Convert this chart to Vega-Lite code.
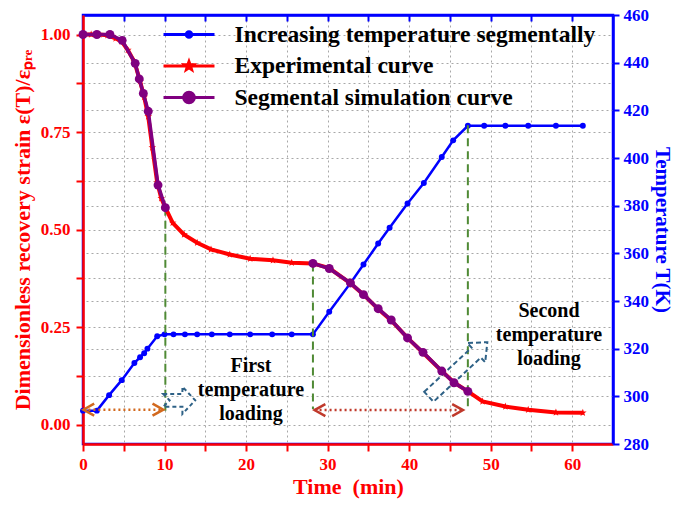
{
  "$schema": "https://vega.github.io/schema/vega-lite/v6.json",
  "width": 530,
  "height": 429,
  "autosize": {"type": "none"},
  "padding": {"left": 83, "top": 15, "right": 66, "bottom": 65},
  "background": "white",
  "config": {
    "view": {"stroke": "#0000ff", "strokeWidth": 2.5},
    "font": "Liberation Serif",
    "axis": {
      "labelFont": "Liberation Serif",
      "titleFont": "Liberation Serif",
      "labelFontWeight": "bold",
      "titleFontWeight": "bold",
      "labelFontSize": 17,
      "titleFontSize": 22,
      "gridDash": [2, 3],
      "gridColor": "#a8a8a8",
      "gridWidth": 1,
      "gridOpacity": 1,
      "domainWidth": 2.5,
      "tickWidth": 2,
      "tickSize": 7,
      "labelOverlap": false,
      "labelFlush": false
    }
  },
  "datasets": {
    "temp": [
      {"t": 0, "T": 294}, {"t": 1.7, "T": 294}, {"t": 3.2, "T": 300.5}, {"t": 4.75, "T": 306.8},
      {"t": 6.3, "T": 314}, {"t": 7.0, "T": 316.4}, {"t": 7.5, "T": 318.1}, {"t": 7.9, "T": 320},
      {"t": 9.1, "T": 325.2}, {"t": 10, "T": 326}, {"t": 11.1, "T": 326}, {"t": 12.5, "T": 326},
      {"t": 14, "T": 326}, {"t": 15.8, "T": 326}, {"t": 18, "T": 326}, {"t": 20.5, "T": 326},
      {"t": 23.2, "T": 326}, {"t": 25.6, "T": 326}, {"t": 28.2, "T": 326}, {"t": 30.2, "T": 335.5},
      {"t": 32.8, "T": 347.5}, {"t": 34.4, "T": 355.3}, {"t": 36.2, "T": 364.1}, {"t": 37.6, "T": 370.7},
      {"t": 39.8, "T": 380.9}, {"t": 41.8, "T": 389.5}, {"t": 44.0, "T": 400.4}, {"t": 45.4, "T": 407.4},
      {"t": 47.2, "T": 413.5}, {"t": 49.2, "T": 413.5}, {"t": 51.8, "T": 413.5}, {"t": 54.6, "T": 413.5},
      {"t": 58, "T": 413.5}, {"t": 61.3, "T": 413.5}
    ],
    "exp": [
      {"t": 0, "v": 1.0}, {"t": 1, "v": 1.0}, {"t": 2, "v": 1.0}, {"t": 3, "v": 0.998}, {"t": 4, "v": 0.99},
      {"t": 4.75, "v": 0.982}, {"t": 5.5, "v": 0.96}, {"t": 6.3, "v": 0.93}, {"t": 7.0, "v": 0.88},
      {"t": 7.5, "v": 0.84}, {"t": 8.0, "v": 0.79}, {"t": 8.5, "v": 0.71}, {"t": 9.1, "v": 0.62},
      {"t": 9.6, "v": 0.58}, {"t": 10.1, "v": 0.556}, {"t": 11, "v": 0.517}, {"t": 12.4, "v": 0.487},
      {"t": 14, "v": 0.466}, {"t": 15.7, "v": 0.449}, {"t": 18, "v": 0.436}, {"t": 20.5, "v": 0.425},
      {"t": 23.3, "v": 0.421}, {"t": 25.6, "v": 0.415}, {"t": 28.2, "v": 0.413}, {"t": 30.2, "v": 0.401},
      {"t": 32.8, "v": 0.362}, {"t": 34.4, "v": 0.333}, {"t": 36.2, "v": 0.296}, {"t": 37.8, "v": 0.267},
      {"t": 39.8, "v": 0.222}, {"t": 41.7, "v": 0.184}, {"t": 44, "v": 0.137}, {"t": 45.5, "v": 0.108},
      {"t": 47.2, "v": 0.085}, {"t": 49, "v": 0.059}, {"t": 51.8, "v": 0.046}, {"t": 54.6, "v": 0.038},
      {"t": 58, "v": 0.031}, {"t": 61.3, "v": 0.03}
    ],
    "sim": [
      {"seg": 1, "t": 0, "v": 1.0}, {"seg": 1, "t": 1.7, "v": 1.0}, {"seg": 1, "t": 3.3, "v": 1.0},
      {"seg": 1, "t": 4.8, "v": 0.985}, {"seg": 1, "t": 6.4, "v": 0.926}, {"seg": 1, "t": 6.9, "v": 0.886},
      {"seg": 1, "t": 7.4, "v": 0.849}, {"seg": 1, "t": 8.0, "v": 0.803}, {"seg": 1, "t": 9.2, "v": 0.614},
      {"seg": 1, "t": 10.1, "v": 0.556},
      {"seg": 2, "t": 28.2, "v": 0.413}, {"seg": 2, "t": 30.2, "v": 0.4}, {"seg": 2, "t": 32.8, "v": 0.363},
      {"seg": 2, "t": 34.4, "v": 0.333}, {"seg": 2, "t": 36.2, "v": 0.297}, {"seg": 2, "t": 37.8, "v": 0.268},
      {"seg": 2, "t": 39.8, "v": 0.222}, {"seg": 2, "t": 41.7, "v": 0.185}, {"seg": 2, "t": 44, "v": 0.137},
      {"seg": 2, "t": 45.5, "v": 0.107}, {"seg": 2, "t": 47.2, "v": 0.085}
    ],
    "guides": [
      {"t": 10.1, "v": 0.556, "v2": 0.03},
      {"t": 28.2, "v": 0.413, "v2": 0.04},
      {"t": 47.2, "v": 0.767, "v2": 0.038}
    ],
    "spans": [
      {"arrow": "first", "t": 0.05, "t2": 9.85, "v": 0.038},
      {"arrow": "second", "t": 28.4, "t2": 46.6, "v": 0.037}
    ],
    "notes": [
      {"t": 20.6, "v": 0.149, "label": "First\ntemperature\nloading"},
      {"t": 57.15, "v": 0.29, "label": "Second\ntemperature\nloading"}
    ]
  },
  "encoding": {
    "x": {
      "field": "t", "type": "quantitative",
      "scale": {"domain": [0, 65], "nice": false, "zero": false},
      "axis": {
        "orient": "bottom",
        "values": [0, 5, 10, 15, 20, 25, 30, 35, 40, 45, 50, 55, 60],
        "labelExpr": "datum.value % 10 === 0 ? datum.label : ''",
        "title": "Time\u00a0\u00a0(min)",
        "titleColor": "#ff0000", "labelColor": "#ff0000",
        "domainColor": "#ff0000", "tickColor": "#ff0000",
        "grid": true, "labelPadding": 5, "titlePadding": 4
      }
    }
  },
  "layer": [
    {
      "encoding": {
        "x": {
          "field": "t", "type": "quantitative",
          "scale": {"domain": [0, 65], "nice": false, "zero": false},
          "axis": {
            "orient": "top",
            "values": [5, 10, 15, 20, 25, 30, 35, 40, 45, 50, 55, 60],
            "labels": false, "title": null, "grid": false,
            "domainColor": "#0000ff", "tickColor": "#0000ff", "tickSize": -6
          }
        },
        "y": {
          "field": "T", "type": "quantitative",
          "scale": {"domain": [280, 460], "nice": false, "zero": false},
          "axis": {
            "orient": "right",
            "values": [280, 300, 320, 340, 360, 380, 400, 420, 440, 460],
            "title": "Temperature T(K)",
            "titleColor": "#0000ff", "labelColor": "#0000ff",
            "domainColor": "#0000ff", "tickColor": "#0000ff",
            "titleFontSize": 21,
            "grid": true, "tickSize": 6, "labelPadding": 4, "titlePadding": 3
          }
        }
      },
      "layer": [
        {
          "data": {"name": "temp"},
          "mark": {"type": "line", "strokeWidth": 2.5},
          "encoding": {
            "color": {
              "datum": "Increasing temperature segmentally", "type": "nominal",
              "scale": {
                "domain": ["Increasing temperature segmentally", "Experimental curve", "Segmental simulation curve"],
                "range": ["#0000ff", "#ff0000", "#800080"]
              },
              "legend": {
                "orient": "none", "legendX": 91.5, "legendY": 5,
                "title": null, "padding": 0,
                "labelFont": "Liberation Serif", "labelFontWeight": "bold",
                "labelFontSize": 23.5, "labelColor": "#000000", "labelLimit": 600,
                "labelOffset": 31, "symbolSize": 650, "symbolStrokeWidth": 3,
                "rowPadding": 5.5,
                "encode": {
                  "labels": {
                    "update": {
                      "fontWeight": {"value": "bold"}
                    }
                  },
                  "symbols": {
                    "update": {
                      "shape": {"signal": "datum.value === 'Experimental curve' ? 'M-2,0L2,0M0,-0.34L0.082,-0.114L0.324,-0.106L0.134,0.044L0.2,0.276L0,0.14L-0.2,0.276L-0.134,0.044L-0.324,-0.106L-0.082,-0.114Z' : datum.value === 'Segmental simulation curve' ? 'M-2,0L2,0M0.42,0A0.42,0.42,0,1,1,-0.42,0A0.42,0.42,0,1,1,0.42,0Z' : 'M-2,0L2,0M0.22,0A0.22,0.22,0,1,1,-0.22,0A0.22,0.22,0,1,1,0.22,0Z'"},
                      "fill": {"scale": "color", "field": "value"}
                    }
                  }
                }
              }
            }
          }
        },
        {
          "data": {"name": "temp"},
          "mark": {"type": "point", "shape": "circle", "filled": true, "opacity": 1, "size": 35, "color": "#0000ff"}
        }
      ]
    },
    {
      "encoding": {
        "y": {
          "field": "v", "type": "quantitative",
          "scale": {"domain": [-0.05, 1.05], "nice": false, "zero": false},
          "axis": {
            "orient": "left",
            "values": [0, 0.125, 0.25, 0.375, 0.5, 0.625, 0.75, 0.875, 1.0],
            "format": ".2f",
            "labelExpr": "(datum.value * 4) % 1 === 0 ? datum.label : ''",
            "title": "Dimensionless recovery strain ε(T)/εₚᵣₑ",
            "titleColor": "#ff0000", "labelColor": "#ff0000",
            "domainColor": "#ff0000", "tickColor": "#ff0000",
            "grid": true, "labelPadding": 6, "titlePadding": 6
          }
        }
      },
      "layer": [
        {
          "data": {"name": "guides"},
          "mark": {"type": "rule", "color": "#4f8a35", "strokeWidth": 2, "strokeDash": [8, 5]},
          "encoding": {"y2": {"field": "v2"}}
        },
        {
          "data": {"name": "spans"},
          "mark": {"type": "rule", "strokeWidth": 2.5, "strokeDash": [2, 3]},
          "encoding": {
            "x2": {"field": "t2"},
            "stroke": {"field": "arrow", "type": "nominal", "scale": {"domain": ["first", "second"], "range": ["#d2691e", "#c0392b"]}, "legend": null}
          }
        },
        {
          "data": {"name": "spans"},
          "mark": {"type": "point", "filled": false, "opacity": 1, "strokeWidth": 2.5, "size": 144, "shape": "M1.8,-1L0,0L1.8,1"},
          "encoding": {
            "stroke": {"field": "arrow", "type": "nominal", "scale": {"domain": ["first", "second"], "range": ["#d2691e", "#c0392b"]}, "legend": null}
          }
        },
        {
          "data": {"name": "spans"},
          "mark": {"type": "point", "filled": false, "opacity": 1, "strokeWidth": 2.5, "size": 144, "shape": "M-1.8,-1L0,0L-1.8,1"},
          "encoding": {
            "x": {"field": "t2", "type": "quantitative"},
            "stroke": {"field": "arrow", "type": "nominal", "scale": {"domain": ["first", "second"], "range": ["#d2691e", "#c0392b"]}, "legend": null}
          }
        },
        {
          "data": {"values": [{"t": 11.8, "v": 0.062}]},
          "mark": {"type": "point", "filled": false, "opacity": 1, "color": "#2e6186", "strokeWidth": 2, "strokeDash": [4, 3], "size": 1024, "shape": "M-1,-0.4L0.2,-0.4L0.2,-0.85L1,0L0.2,0.85L0.2,0.4L-1,0.4L-0.6,0Z"}
        },
        {
          "data": {"values": [{"t": 46.0, "v": 0.141}]},
          "mark": {"type": "point", "filled": false, "opacity": 1, "color": "#2e6186", "strokeWidth": 2, "strokeDash": [5, 3], "size": 6400, "angle": -43, "shape": "M-1,-0.17L0.62,-0.17L0.62,-0.33L1,0L0.62,0.33L0.62,0.17L-1,0.17Z"}
        },
        {
          "data": {"name": "exp"},
          "mark": {"type": "line", "strokeWidth": 4},
          "encoding": {
            "color": {"datum": "Experimental curve", "type": "nominal"}
          }
        },
        {
          "data": {"name": "exp"},
          "mark": {"type": "point", "filled": true, "opacity": 1, "color": "#ff0000", "size": 64, "shape": "M0,-1L0.235,-0.324L0.951,-0.309L0.38,0.124L0.588,0.809L0,0.4L-0.588,0.809L-0.38,0.124L-0.951,-0.309L-0.235,-0.324Z"}
        },
        {
          "data": {"name": "sim"},
          "mark": {"type": "line", "strokeWidth": 3.5},
          "encoding": {
            "detail": {"field": "seg", "type": "nominal"},
            "color": {"datum": "Segmental simulation curve", "type": "nominal"}
          }
        },
        {
          "data": {"name": "sim"},
          "mark": {"type": "point", "shape": "circle", "filled": true, "opacity": 1, "size": 80, "color": "#800080"}
        },
        {
          "data": {"name": "notes"},
          "mark": {"type": "text", "font": "Liberation Serif", "fontWeight": "bold", "fontSize": 20, "lineHeight": 24, "lineBreak": "\n", "align": "center", "baseline": "middle", "color": "#000000"},
          "encoding": {"text": {"field": "label"}}
        }
      ]
    }
  ],
  "resolve": {
    "scale": {"y": "independent"},
    "axis": {"x": "independent", "y": "independent"}
  }
}
